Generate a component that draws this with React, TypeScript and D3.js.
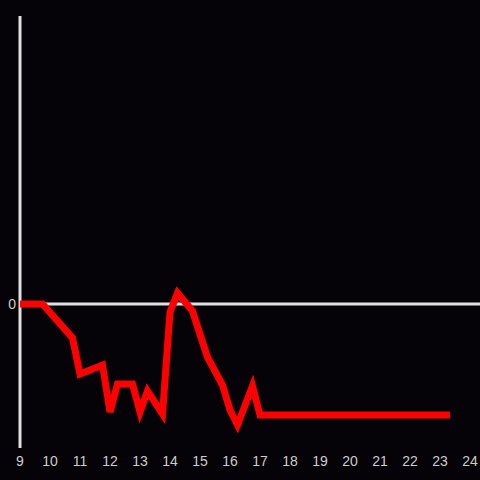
import React from "react";
import * as d3 from "d3";

const times = [9, 9.75, 10.75, 11, 11.75, 12, 12.25, 12.75, 13, 13.25, 13.75, 14, 14.25, 14.75, 15.25, 15.75, 16, 16.25, 16.75, 17, 23.33];
const values = [0, 0, -0.236, -0.486, -0.424, -0.75, -0.556, -0.556, -0.75, -0.604, -0.764, -0.056, 0.076, -0.049, -0.37, -0.5625, -0.736, -0.84, -0.569, -0.771, -0.771];
const xTicks = [9, 10, 11, 12, 13, 14, 15, 16, 17, 18, 19, 20, 21, 22, 23, 24];
const yTicks = [0];

export default function App() {
  const W = 480, H = 480;
  const x = d3.scaleLinear().domain([9, 24]).range([20, 470]);
  const y = d3.scaleLinear().domain([-1, 2]).range([448, 16]);
  const data = times.map((t, i) => [t, values[i]] as [number, number]);
  const line = d3.line<[number, number]>().x(d => x(d[0])).y(d => y(d[1]));
  return (
    <div style={{ position: "absolute", left: 0, top: 0 }}>
      <svg width={W} height={H} style={{ display: "block", background: "#050307" }}>
        <rect width={W} height={H} fill="#050307" />
        {yTicks.map(t => (
          <g key={t}>
            <line x1={x(9)} x2={W} y1={y(t)} y2={y(t)} stroke="#e0e0e0" strokeWidth={3} />
            <text x={16} y={y(t)} dy="0.35em" textAnchor="end" fill="#cccccc" fontSize={14} fontFamily="'Liberation Sans', Arial, sans-serif">{t}</text>
          </g>
        ))}
        <line x1={x(9)} x2={x(9)} y1={16} y2={448} stroke="#e0e0e0" strokeWidth={3} />
        <path d={line(data) ?? ""} fill="none" stroke="#ff0000" strokeWidth={7} strokeLinejoin="miter" strokeLinecap="butt" />
        {xTicks.map(t => (
          <text key={t} x={x(t)} y={466} textAnchor="middle" fill="#cccccc" fontSize={14} fontFamily="'Liberation Sans', Arial, sans-serif">{t}</text>
        ))}
      </svg>
    </div>
  );
}
